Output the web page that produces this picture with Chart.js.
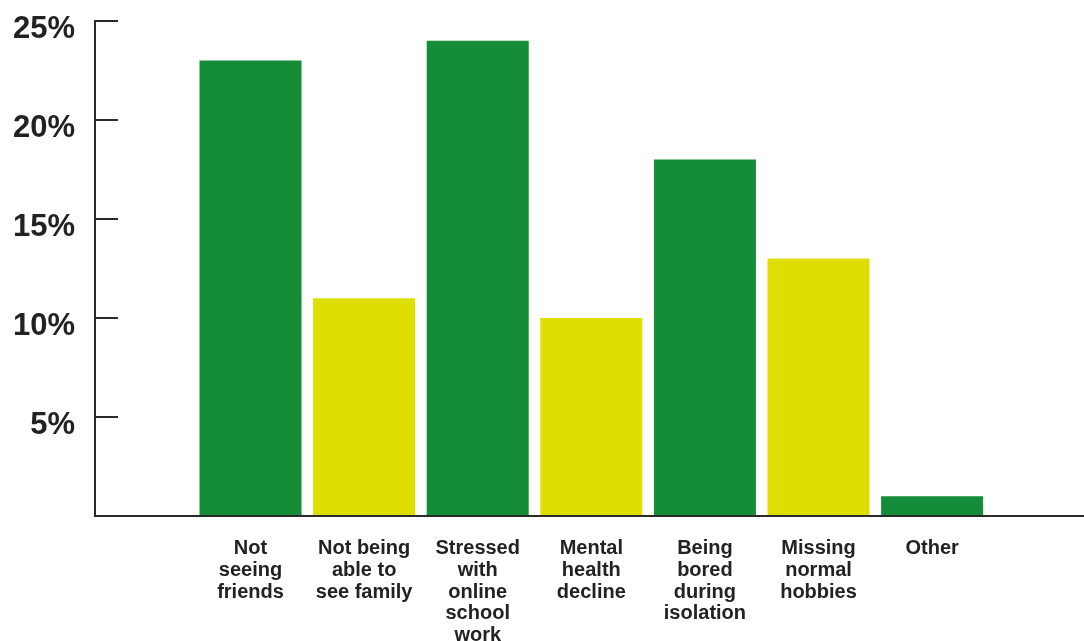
<!DOCTYPE html>
<html>
<head>
<meta charset="utf-8">
<script src="https://cdn.jsdelivr.net/npm/chart.js@4"></script>
<style>
  html, body { margin: 0; padding: 0; background: #fff; }
  #wrap { width: 1084px; height: 641px; }
</style>
</head>
<body>
<div id="wrap"><canvas id="chart" width="1084" height="641"></canvas></div>
<script>
// Categorias (varias lineas por etiqueta)
const categorias = [
  ['Not', 'seeing', 'friends'],
  ['Not being', 'able to', 'see family'],
  ['Stressed', 'with', 'online', 'school', 'work'],
  ['Mental', 'health', 'decline'],
  ['Being', 'bored', 'during', 'isolation'],
  ['Missing', 'normal', 'hobbies'],
  ['Other']
];
const porcentajes = [23, 11, 24, 10, 18, 13, 1];
const coloresBarras = ['#148c38', '#dede00', '#148c38', '#dede00', '#148c38', '#dede00', '#148c38'];
const ticksY = [0, 5, 10, 15, 20, 25];

const colorTexto = '#222';
const fuente = "'Liberation Sans', Arial, Helvetica, sans-serif";

document.addEventListener('DOMContentLoaded', () => {
  const ctx = document.getElementById('chart').getContext('2d');

  // puntos para la escala lineal del eje x
  const datos = porcentajes.map((v, i) => ({ x: i, y: v }));

  new Chart(ctx, {
    type: 'bar',
    data: {
      datasets: [{
        data: datos,
        backgroundColor: coloresBarras,
        borderWidth: 0,
        barPercentage: 0.898,
        categoryPercentage: 1
      }]
    },
    options: {
      responsive: false,
      animation: false,
      layout: { padding: { top: 21, right: 0, left: 0, bottom: 0 } },
      plugins: {
        legend: { display: false },
        tooltip: { enabled: false }
      },
      scales: {
        x: {
          type: 'linear',
          offset: false,
          min: -1.369,
          max: 7.337,
          afterFit: (scale) => {
            scale.height = 125;
            scale.paddingLeft = 0;
            scale.paddingRight = 0;
          },
          grid: { display: true, drawOnChartArea: false, drawTicks: false },
          border: { display: true, color: '#2a2a2a', width: 2 },
          ticks: {
            stepSize: 1,
            includeBounds: false,
            autoSkip: false,
            maxRotation: 0,
            minRotation: 0,
            padding: 22,
            color: colorTexto,
            font: { family: fuente, size: 20, weight: 'bold', lineHeight: 1.085 },
            callback: (v) => categorias[v] || ''
          }
        },
        y: {
          min: 0,
          max: 25,
          afterFit: (scale) => {
            scale.width = 95;
            scale.paddingTop = 0;
            scale.paddingBottom = 0;
          },
          afterBuildTicks: (scale) => { scale.ticks = ticksY.map(v => ({ value: v })); },
          grid: { drawOnChartArea: false, drawTicks: true, tickLength: -23, color: '#2a2a2a', lineWidth: 2 },
          border: { display: true, color: '#2a2a2a', width: 2 },
          ticks: {
            padding: 43,
            labelOffset: 8,
            color: colorTexto,
            font: { family: fuente, size: 31, weight: 'bold' },
            callback: (v) => v === 0 ? '' : v + '%'
          }
        }
      }
    }
  });
});
</script>
</body>
</html>
